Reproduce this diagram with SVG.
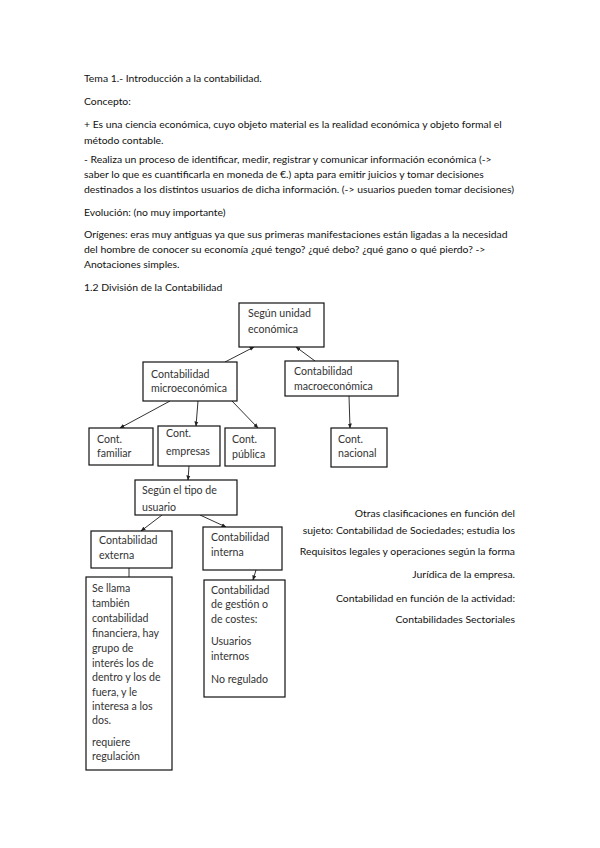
<svg xmlns="http://www.w3.org/2000/svg" width="600" height="848" viewBox="0 0 600 848">
<style>
.t{font-family:Lato,"Liberation Sans",sans-serif;font-size:10.4px;fill:#111}
.b{font-family:Lato,"Liberation Sans",sans-serif;font-size:10.6px;fill:#333}
.bx{fill:#fff;stroke:#111;stroke-width:1.2}
.c{stroke:#333;stroke-width:1;fill:none}
.ca{stroke:#333;stroke-width:1;fill:none;marker-end:url(#ah)}
</style>
<defs>
<marker id="ah" viewBox="0 0 10 10" refX="9" refY="5" markerWidth="5" markerHeight="5" orient="auto" markerUnits="userSpaceOnUse">
<path d="M0,1 L10,5 L0,9 z" fill="#222"/>
</marker>
</defs>
<rect width="600" height="848" fill="#fff"/>
<g id="texto">
<text class="t" x="84" y="82">Tema 1.- Introducción a la contabilidad.</text>
<text class="t" x="84" y="105">Concepto:</text>
<text class="t" x="84" y="128">+ Es una ciencia económica, cuyo objeto material es la realidad económica y objeto formal el</text>
<text class="t" x="84" y="144">método contable.</text>
<text class="t" x="84" y="163">-  Realiza un proceso de identificar, medir, registrar y comunicar información económica (-&gt;</text>
<text class="t" x="84" y="178">saber lo que es cuantificarla en moneda de €.) apta para emitir juicios y tomar decisiones</text>
<text class="t" x="84" y="193">destinados a los distintos usuarios de dicha información. (-&gt; usuarios pueden tomar decisiones)</text>
<text class="t" x="84" y="216">Evolución: (no muy importante)</text>
<text class="t" x="84" y="238">Orígenes: eras muy antiguas ya que sus primeras manifestaciones están ligadas a la necesidad</text>
<text class="t" x="84" y="253">del hombre de conocer su economía ¿qué tengo? ¿qué debo? ¿qué gano o qué pierdo? -&gt;</text>
<text class="t" x="84" y="268">Anotaciones simples.</text>
<text class="t" x="84" y="291">1.2 División de la Contabilidad</text>
</g>
<g id="otras" text-anchor="end">
<text class="t" x="515" y="517">Otras clasificaciones en función del</text>
<text class="t" x="515" y="534">sujeto: Contabilidad de Sociedades; estudia los</text>
<text class="t" x="515" y="555">Requisitos legales y operaciones según la forma</text>
<text class="t" x="515" y="578">Jurídica de la empresa.</text>
<text class="t" x="515" y="602">Contabilidad en función de la actividad:</text>
<text class="t" x="515" y="623">Contabilidades Sectoriales</text>
</g>
<g id="connectors">
<line class="ca" x1="225" y1="362" x2="254" y2="347"/>
<line class="ca" x1="315" y1="361" x2="296" y2="347"/>
<line class="ca" x1="170" y1="401" x2="120" y2="428"/>
<line class="ca" x1="198" y1="401" x2="196" y2="426"/>
<line class="ca" x1="232" y1="401" x2="258" y2="428"/>
<line class="ca" x1="349" y1="396" x2="350" y2="428"/>
<line class="ca" x1="189" y1="466" x2="188" y2="480"/>
<line class="ca" x1="162" y1="515" x2="141" y2="531"/>
<line class="ca" x1="200" y1="515" x2="226" y2="527"/>
<line class="c" x1="129" y1="568" x2="129" y2="577"/>
<line class="ca" x1="256" y1="570" x2="253" y2="580"/>
</g>
<g id="n-unidad">
<rect class="bx" x="239" y="303" width="85" height="44"/>
<text class="b" x="248" y="317">Según unidad</text>
<text class="b" x="248" y="333">económica</text>
</g>
<g id="n-micro">
<rect class="bx" x="143" y="362" width="94" height="39"/>
<text class="b" x="151" y="378">Contabilidad</text>
<text class="b" x="151" y="392">microeconómica</text>
</g>
<g id="n-macro">
<rect class="bx" x="285" y="361" width="113" height="35"/>
<text class="b" x="294" y="375">Contabilidad</text>
<text class="b" x="294" y="390">macroeconómica</text>
</g>
<g id="n-familiar">
<rect class="bx" x="89" y="428" width="64" height="37"/>
<text class="b" x="97" y="443">Cont.</text>
<text class="b" x="97" y="457">familiar</text>
</g>
<g id="n-empresas">
<rect class="bx" x="158" y="426" width="62" height="40"/>
<text class="b" x="166" y="437">Cont.</text>
<text class="b" x="166" y="455">empresas</text>
</g>
<g id="n-publica">
<rect class="bx" x="225" y="428" width="50" height="38"/>
<text class="b" x="232" y="443">Cont.</text>
<text class="b" x="232" y="458">pública</text>
</g>
<g id="n-nacional">
<rect class="bx" x="331" y="428" width="56" height="39"/>
<text class="b" x="338" y="443">Cont.</text>
<text class="b" x="338" y="457">nacional</text>
</g>
<g id="n-tipo">
<rect class="bx" x="135" y="480" width="102" height="35"/>
<text class="b" x="142" y="494">Según el tipo de</text>
<text class="b" x="142" y="511">usuario</text>
</g>
<g id="n-externa">
<rect class="bx" x="91" y="531" width="81" height="37"/>
<text class="b" x="99" y="544">Contabilidad</text>
<text class="b" x="99" y="559">externa</text>
</g>
<g id="n-interna">
<rect class="bx" x="203" y="527" width="79" height="43"/>
<text class="b" x="211" y="541">Contabilidad</text>
<text class="b" x="211" y="556">interna</text>
</g>
<g id="n-financiera">
<rect class="bx" x="86" y="577" width="86" height="193"/>
<text class="b" x="92" y="592">Se llama</text>
<text class="b" x="92" y="607">también</text>
<text class="b" x="92" y="622">contabilidad</text>
<text class="b" x="92" y="637">financiera, hay</text>
<text class="b" x="92" y="652">grupo de</text>
<text class="b" x="92" y="667">interés los de</text>
<text class="b" x="92" y="681">dentro y los de</text>
<text class="b" x="92" y="696">fuera, y le</text>
<text class="b" x="92" y="710">interesa a los</text>
<text class="b" x="92" y="724">dos.</text>
<text class="b" x="92" y="746">requiere</text>
<text class="b" x="92" y="760">regulación</text>
</g>
<g id="n-gestion">
<rect class="bx" x="204" y="580" width="81" height="117"/>
<text class="b" x="211" y="594">Contabilidad</text>
<text class="b" x="211" y="608">de gestión o</text>
<text class="b" x="211" y="623">de costes:</text>
<text class="b" x="211" y="645">Usuarios</text>
<text class="b" x="211" y="660">internos</text>
<text class="b" x="211" y="683">No regulado</text>
</g>
</svg>
